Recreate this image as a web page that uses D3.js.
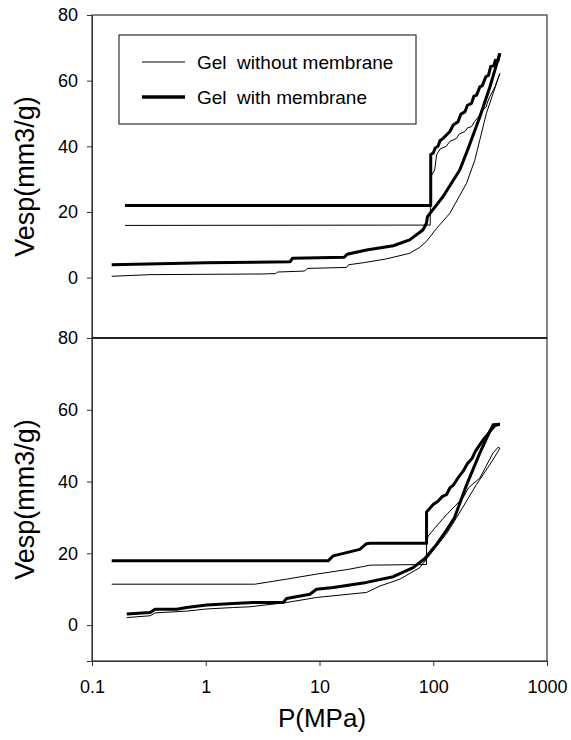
<!DOCTYPE html>
<html>
<head>
<meta charset="utf-8">
<script src="https://cdn.jsdelivr.net/npm/d3@7"></script>
<style>
  body { margin: 0; background: #fff; }
  svg text { font-family: "Liberation Sans", Arial, sans-serif; fill: #000; }
</style>
</head>
<body>
<div id="chart"></div>
<script>
// pressure (MPa) and specific volume (mm3/g)

const pressureTicks = [0.1, 1, 10, 100, 1000];
const volumeTicks = [0, 20, 40, 60, 80];
const seriesNames = ["Gel  without membrane", "Gel  with membrane"];

// top panel
const topPlainIn = [[0.149,0.4],[0.324,0.9],[3,1.1],[4.1,1.2],[4.3,1.7],[7.4,2.0],[7.8,2.8],[17.3,3.1],[18,3.9],[25,4.6],[38.7,5.7],[62,7.4],[76,9.2],[87,11],[107,15],[140,19.6],[196,28.7],[232,35.8],[293,50],[385,62.2]];
const topPlainOut = [[385,62.2],[360,59.5],[350,58.2],[330,56.5],[314,55.1],[300,53.5],[292,52],[265,50.5],[250,49],[230,47.5],[217,46],[200,45.6],[190,44.5],[170,43.8],[160,42.4],[140,41.5],[130,40],[115,39.2],[107,37.4],[104,34],[103,32.8],[98,31.5],[95,30.7],[94,16],[0.195,15.9]];
const topMembIn = [[0.149,3.9],[0.5,4.3],[1,4.5],[2.7,4.7],[5.5,4.8],[5.8,5.9],[16.5,6.2],[17.5,7.1],[25.9,8.4],[44.5,9.7],[62,11.5],[81,14.5],[87,16.5],[89,18.6],[122,24.7],[171,32.8],[201,39],[257,49],[314,58],[385,68.3]];
const topMembOut = [[385,68.3],[370,66],[352,66.2],[340,64.5],[320,64.3],[305,61.5],[290,61.2],[270,58.5],[257,58.1],[240,55.5],[228,55.3],[217,53.1],[200,52.5],[190,50.5],[175,49.8],[165,47.5],[150,46.5],[140,44.5],[122,42.4],[115,41.8],[110,40],[104,39.5],[99.8,37.9],[95,37.5],[95,22],[0.195,22]];

// bottom panel
const botPlainIn = [[0.202,2.1],[0.324,2.6],[0.358,3.4],[0.68,3.9],[1.02,4.5],[1.75,4.9],[2.44,5.1],[5.14,6.3],[9.4,7.7],[25.9,9.1],[34,10.9],[50.9,12.8],[76,16],[93,19.5],[131,25.5],[160,29.9],[240,39.2],[314,44.7],[372,48.4],[385,49.3]];
const botPlainOut = [[385,49.3],[372,49.6],[336,48],[257,41],[205,38.3],[183,35.5],[131,30.8],[103,27],[90.2,24.8],[87.3,23],[87.3,16.9],[27.7,16.7],[18.5,15.6],[9.4,14.2],[5.1,12.8],[3.4,11.9],[2.7,11.4],[0.149,11.4]];
const botMembIn = [[0.202,3.1],[0.324,3.5],[0.358,4.4],[0.555,4.4],[0.68,4.9],[1.02,5.6],[1.75,6],[2.61,6.3],[4.8,6.3],[5.14,7.4],[8.24,8.6],[9.4,10],[13.2,10.5],[25.9,11.9],[44.5,13.5],[66.5,16],[84,18.5],[107,22.5],[131,26.5],[154,30],[196,39],[257,48],[314,54],[350,55.6],[385,56]];
const botMembOut = [[385,56],[336,55.8],[315,54],[300,53],[280,52],[257,50.3],[235,48.5],[220,46.5],[200,45],[183,42.9],[165,41],[150,39],[140,38.2],[131,36.4],[120,35.8],[110,34.5],[99.8,33.6],[93,32.5],[87.3,31.5],[87.3,22.8],[27.7,22.8],[25.9,22.7],[22.6,21.1],[13.2,19.3],[11.9,17.9],[0.149,17.9]];

const width = 571, height = 740;
const left = 92, right = 547;
const topTop = 15, split = 338, botBottom = 661;

const svg = d3.select("#chart").append("svg")
  .attr("width", width)
  .attr("height", height);

const x = d3.scaleLog().domain([0.1, 1000]).range([left, right]);
const yTop = d3.scaleLinear().domain([-18.4, 80]).range([split, topTop]);
const yBot = d3.scaleLinear().domain([-10, 80]).range([botBottom, split]);

function drawPanel(y, curves, y0, y1) {
  const line = d3.line().x(d => x(d[0])).y(d => y(d[1]));

  // frame
  svg.append("rect")
    .attr("x", left).attr("y", y1)
    .attr("width", right - left).attr("height", y0 - y1)
    .attr("fill", "none").attr("stroke", "#333").attr("stroke-width", 1.2);

  const ax = svg.append("g")
    .attr("transform", `translate(${left},0)`)
    .call(d3.axisLeft(y).tickValues(volumeTicks).tickSize(5).tickPadding(9));
  ax.select(".domain").attr("stroke", "#333");
  ax.selectAll(".tick line").attr("stroke", "#333");
  ax.selectAll("text").style("font-size", "18px");

  curves.forEach(c => {
    svg.append("path")
      .datum(c.data)
      .attr("d", line)
      .attr("fill", "none")
      .attr("stroke", "#000")
      .attr("stroke-width", c.w)
      .attr("stroke-linejoin", "round");
  });

  svg.append("text")
    .attr("transform", `translate(34,${(y0 + y1) / 2}) rotate(-90)`)
    .attr("text-anchor", "middle")
    .style("font-size", "27px")
    .text("Vesp(mm3/g)");
}

drawPanel(yTop, [
  {data: topPlainIn, w: 1}, {data: topPlainOut, w: 1},
  {data: topMembIn, w: 3}, {data: topMembOut, w: 3}
], split, topTop);

drawPanel(yBot, [
  {data: botPlainIn, w: 1}, {data: botPlainOut, w: 1},
  {data: botMembIn, w: 3}, {data: botMembOut, w: 3}
], botBottom, split);

// divider between panels is a bit heavier
svg.append("line")
  .attr("x1", left).attr("x2", right)
  .attr("y1", split).attr("y2", split)
  .attr("stroke", "#222").attr("stroke-width", 1.8);

// x axis (bottom panel only)
const xa = svg.append("g")
  .attr("transform", `translate(0,${botBottom})`)
  .call(d3.axisBottom(x).tickValues(pressureTicks).tickFormat(d => String(d)).tickSize(5).tickPadding(14));
xa.select(".domain").attr("stroke", "#333");
xa.selectAll(".tick line").attr("stroke", "#333");
xa.selectAll("text").style("font-size", "18px");

svg.append("text")
  .attr("x", 322)
  .attr("y", 727)
  .attr("text-anchor", "middle")
  .style("font-size", "26px")
  .text("P(MPa)");

// legend
const legend = svg.append("g");
legend.append("rect")
  .attr("x", 119).attr("y", 35).attr("width", 297).attr("height", 89)
  .attr("fill", "#fff").attr("stroke", "#333").attr("stroke-width", 1.2);
seriesNames.forEach((name, i) => {
  const ly = 62 + i * 35;
  legend.append("line")
    .attr("x1", 142).attr("x2", 185).attr("y1", ly).attr("y2", ly)
    .attr("stroke", "#000").attr("stroke-width", i === 0 ? 1 : 3.5);
  legend.append("text")
    .attr("x", 197).attr("y", ly + 6.5)
    .style("font-size", "19px")
    .style("white-space", "pre")
    .text(name);
});
</script>
</body>
</html>
